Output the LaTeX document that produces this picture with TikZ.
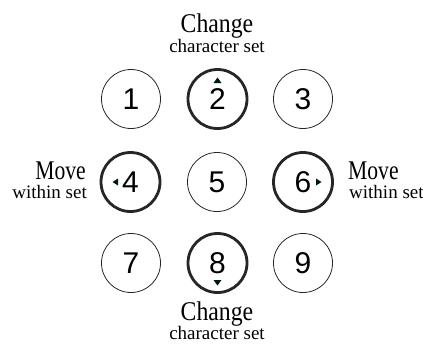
\documentclass[tikz,border=0pt]{standalone}
\usepackage{fontspec}
\newfontfamily\digitfont{Liberation Sans}
\newfontfamily\labelfont{Liberation Serif}
\begin{document}
\begin{tikzpicture}[x=1pt,y=-1pt,
  key/.style={circle,draw=black!85,line width=0.8pt,minimum size=59pt,inner sep=0pt,font=\digitfont\fontsize{30}{30}\selectfont},
  hot/.style={key,line width=2.8pt},
  trifill/.style={fill=black!70!teal!60!black},
  big/.style={font=\labelfont\fontsize{27}{27}\selectfont,inner sep=0pt},
  small/.style={font=\labelfont\fontsize{19}{19}\selectfont,inner sep=0pt}]
\useasboundingbox (0,0) rectangle (423,343);
% keys
\node[key] (n1) at (131,99) {1};
\node[hot] (n2) at (217.5,99) {2};
\node[key] (n3) at (303,99) {3};
\node[hot] (n4) at (130.5,182) {4};
\node[key] (n5) at (217,182) {5};
\node[hot] (n6) at (303,182) {6};
\node[key] (n7) at (131,263) {7};
\node[hot] (n8) at (217.5,263) {8};
\node[key] (n9) at (303,263) {9};
% triangles
\fill[trifill] (n2.center) ++(-4,-16) -- ++(8,0) -- ++(-4,-5.5) -- cycle;
\fill[trifill] (n8.center) ++(-4,17) -- ++(8,0) -- ++(-4,5.5) -- cycle;
\fill[trifill] (n4.center) ++(-12.5,-3.5) -- ++(0,7) -- ++(-5.5,-3.5) -- cycle;
\fill[trifill] (n6.center) ++(13,-3.5) -- ++(0,7) -- ++(5.5,-3.5) -- cycle;
% labels
\node[big,anchor=base] (tc) at (217,32.5) {\scalebox{0.88}[1]{Change}};
\node[small,anchor=base] (ts) at (217,52) {character set};
\node[big,anchor=base] (bc) at (217,320) {\scalebox{0.88}[1]{Change}};
\node[small,anchor=base] (bs) at (217,339.5) {character set};
\node[big,anchor=base east] (lm) at (86,179.5) {\scalebox{0.8}[1]{Move}};
\node[small,anchor=base east] (lw) at (87,198.5) {within set};
\node[big,anchor=base west] (rm) at (348,179.5) {\scalebox{0.8}[1]{Move}};
\node[small,anchor=base west] (rw) at (349,198.5) {within set};
\end{tikzpicture}
\end{document}
